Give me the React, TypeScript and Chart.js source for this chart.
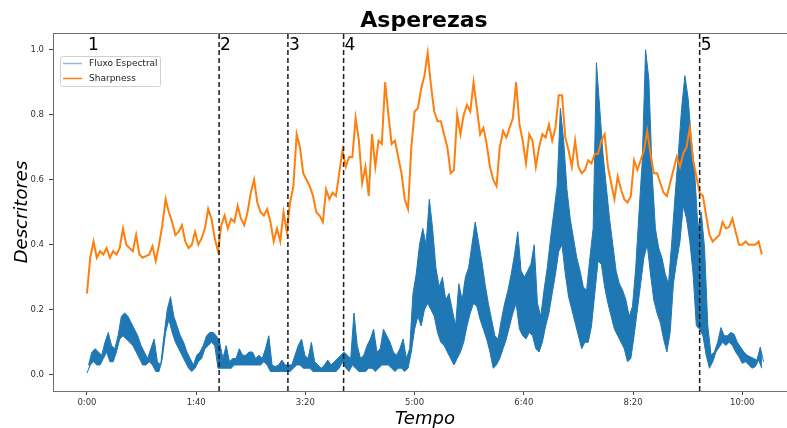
import React, { useEffect, useRef } from 'react';
import { Chart, registerables } from 'chart.js';

Chart.register(...registerables);

// sampling step of the series (seconds)
const STEP = 3;

// Sharpness (orange), one value every 3 s from 0:00
const SHARPNESS = [
  0.25, 0.36, 0.41, 0.36, 0.38, 0.37, 0.39, 0.36, 0.38, 0.37,
  0.39, 0.45, 0.40, 0.39, 0.38, 0.43, 0.37, 0.36, 0.365, 0.37,
  0.395, 0.35, 0.40, 0.46, 0.54, 0.50, 0.47, 0.43, 0.44, 0.46,
  0.41, 0.39, 0.40, 0.44, 0.40, 0.42, 0.45, 0.51, 0.48, 0.42,
  0.38, 0.46, 0.49, 0.45, 0.48, 0.47, 0.52, 0.48, 0.46, 0.50,
  0.56, 0.60, 0.53, 0.50, 0.49, 0.51, 0.47, 0.41, 0.45, 0.41,
  0.50, 0.44, 0.53, 0.58, 0.74, 0.70, 0.62, 0.60, 0.58, 0.55,
  0.50, 0.49, 0.47, 0.57, 0.54, 0.56, 0.55, 0.62, 0.69, 0.64,
  0.67, 0.67, 0.79, 0.72, 0.59, 0.64, 0.55, 0.74, 0.64, 0.72,
  0.71, 0.90, 0.80, 0.71, 0.72, 0.67, 0.62, 0.54, 0.51, 0.70,
  0.81, 0.82, 0.88, 0.92, 0.99, 0.89, 0.81, 0.78, 0.78, 0.74,
  0.70, 0.62, 0.63, 0.80, 0.74, 0.80, 0.83, 0.81, 0.90, 0.82,
  0.74, 0.76, 0.71, 0.64, 0.60, 0.58, 0.70, 0.75, 0.73, 0.76,
  0.79, 0.90, 0.77, 0.72, 0.65, 0.74, 0.72, 0.64, 0.70, 0.74,
  0.73, 0.77, 0.72, 0.76, 0.86, 0.86, 0.73, 0.69, 0.64, 0.72,
  0.64, 0.62, 0.63, 0.66, 0.65, 0.68, 0.68, 0.72, 0.74, 0.64,
  0.59, 0.54, 0.61, 0.57, 0.54, 0.53, 0.55, 0.66, 0.63, 0.66,
  0.69, 0.75, 0.68, 0.62, 0.62, 0.59, 0.56, 0.55, 0.59, 0.63,
  0.67, 0.64, 0.68, 0.70, 0.76, 0.66, 0.61, 0.56, 0.55, 0.49,
  0.43, 0.41, 0.42, 0.43, 0.47, 0.45, 0.455, 0.48, 0.44, 0.40,
  0.40, 0.41, 0.40, 0.40, 0.40, 0.41, 0.37,
];

// Fluxo Espectral (blue): lower and upper values of the fast oscillation, every 3 s
const FLUX_LOW = [
  0.005, 0.03, 0.04, 0.03, 0.03, 0.05, 0.07, 0.04, 0.04, 0.07,
  0.11, 0.12, 0.11, 0.10, 0.09, 0.07, 0.05, 0.03, 0.03, 0.04,
  0.03, 0.01, 0.01, 0.05, 0.13, 0.17, 0.13, 0.10, 0.08, 0.06,
  0.04, 0.02, 0.01, 0.02, 0.04, 0.05, 0.08, 0.09, 0.10, 0.09,
  0.02, 0.02, 0.02, 0.02, 0.02, 0.03, 0.03, 0.03, 0.03, 0.03,
  0.03, 0.03, 0.03, 0.03, 0.04, 0.03, 0.01, 0.01, 0.01, 0.01,
  0.01, 0.01, 0.01, 0.02, 0.03, 0.03, 0.02, 0.02, 0.02, 0.01,
  0.01, 0.01, 0.01, 0.01, 0.01, 0.01, 0.01, 0.02, 0.04, 0.02,
  0.01, 0.03, 0.02, 0.01, 0.01, 0.01, 0.02, 0.02, 0.01, 0.02,
  0.03, 0.03, 0.03, 0.02, 0.01, 0.02, 0.02, 0.01, 0.02, 0.07,
  0.14, 0.18, 0.15, 0.20, 0.22, 0.20, 0.18, 0.13, 0.10, 0.09,
  0.07, 0.05, 0.03, 0.05, 0.07, 0.10, 0.15, 0.19, 0.22, 0.21,
  0.17, 0.14, 0.11, 0.07, 0.02, 0.03, 0.05, 0.08, 0.11, 0.15,
  0.19, 0.22, 0.14, 0.12, 0.11, 0.13, 0.12, 0.08, 0.07, 0.10,
  0.15, 0.19, 0.25, 0.31, 0.38, 0.40, 0.31, 0.24, 0.20, 0.16,
  0.12, 0.08, 0.10, 0.10, 0.15, 0.25, 0.35, 0.34, 0.27, 0.22,
  0.18, 0.14, 0.12, 0.10, 0.08, 0.04, 0.05, 0.12, 0.20, 0.28,
  0.36, 0.40, 0.31, 0.23, 0.19, 0.16, 0.11, 0.07, 0.13, 0.28,
  0.35, 0.41, 0.52, 0.48, 0.41, 0.31, 0.15, 0.14, 0.12, 0.06,
  0.02, 0.04, 0.07, 0.085, 0.10, 0.09, 0.10, 0.09, 0.07, 0.055,
  0.035, 0.04, 0.03, 0.02, 0.025, 0.045, 0.02,
];

const FLUX_HIGH = [
  0.03, 0.07, 0.08, 0.07, 0.06, 0.10, 0.13, 0.09, 0.08, 0.12,
  0.18, 0.19, 0.18, 0.16, 0.14, 0.12, 0.09, 0.07, 0.05, 0.08,
  0.11, 0.04, 0.03, 0.12, 0.20, 0.24, 0.18, 0.15, 0.12, 0.10,
  0.07, 0.05, 0.03, 0.06, 0.07, 0.09, 0.12, 0.13, 0.13, 0.12,
  0.10, 0.05, 0.09, 0.04, 0.05, 0.05, 0.08, 0.06, 0.06, 0.07,
  0.07, 0.05, 0.06, 0.05, 0.08, 0.12, 0.03, 0.025, 0.03, 0.045,
  0.03, 0.03, 0.03, 0.06, 0.09, 0.11, 0.06, 0.05, 0.10, 0.04,
  0.03, 0.02, 0.03, 0.045, 0.03, 0.04, 0.05, 0.06, 0.07, 0.06,
  0.05, 0.19, 0.09, 0.05, 0.06, 0.09, 0.11, 0.14, 0.07, 0.08,
  0.14, 0.12, 0.10, 0.07, 0.06, 0.08, 0.11, 0.05, 0.08, 0.25,
  0.31, 0.40, 0.45, 0.40, 0.54, 0.45, 0.33, 0.27, 0.30, 0.23,
  0.25, 0.20, 0.15, 0.28, 0.23, 0.30, 0.33, 0.40, 0.47, 0.41,
  0.35, 0.28, 0.22, 0.17, 0.12, 0.11, 0.17, 0.22, 0.26, 0.31,
  0.37, 0.44, 0.32, 0.30, 0.32, 0.34, 0.40, 0.22, 0.18, 0.26,
  0.33, 0.42, 0.50, 0.58, 0.82, 0.72, 0.57, 0.48, 0.42, 0.36,
  0.32, 0.27, 0.26, 0.36, 0.45, 0.96, 0.82, 0.68, 0.58, 0.48,
  0.40, 0.32, 0.28, 0.26, 0.23, 0.18, 0.21, 0.33, 0.50, 0.66,
  1.00, 0.91, 0.62, 0.45, 0.39, 0.36, 0.31, 0.28, 0.41, 0.55,
  0.68, 0.82, 0.92, 0.85, 0.72, 0.62, 0.45, 0.50, 0.39, 0.15,
  0.06, 0.07, 0.10, 0.145, 0.12, 0.12, 0.13, 0.125, 0.10, 0.085,
  0.07, 0.06, 0.055, 0.05, 0.045, 0.085, 0.04,
];

// section boundaries (seconds) and labels
const DIVIDERS = [121, 184, 235, 561];
const SECTION_TIMES = [0, 121, 184, 235, 561];
const SECTION_LABELS = ['1', '2', '3', '4', '5'];

const X_TICKS = [0, 100, 200, 300, 400, 500, 600];
const X_TICK_LABELS = ['0:00', '1:40', '3:20', '5:00', '6:40', '8:20', '10:00'];
const Y_TICKS = [0, 0.2, 0.4, 0.6, 0.8, 1.0];
const Y_TICK_LABELS = ['0.0', '0.2', '0.4', '0.6', '0.8', '1.0'];

const SERIES_NAMES = ['Fluxo Espectral', 'Sharpness'];
const TITLE = 'Asperezas';
const X_TITLE = 'Tempo';
const Y_TITLE = 'Descritores';

const X_MIN = -31.1;
const X_MAX = 641;
const Y_MIN = -0.05;
const Y_MAX = 1.0514;

const BLUE = '#1f77b4';
const ORANGE = '#ff7f0e';
const SPINE = '#6e6e6e';
const FONT = '"DejaVu Sans", sans-serif';

export default function App() {
  const ref = useRef<HTMLCanvasElement>(null);

  useEffect(() => {
    const canvas = ref.current;
    if (!canvas) return;

    const times = SHARPNESS.map((_, i) => i * STEP);
    const sharpData = SHARPNESS.map((v, i) => ({ x: times[i], y: v }));
    const lowData = FLUX_LOW.map((v, i) => ({ x: times[i], y: v }));
    const highData = FLUX_HIGH.map((v, i) => ({ x: times[i] + STEP / 2, y: v }));

    const dividerSets = DIVIDERS.map((t) => ({
      type: 'line',
      label: 'divider',
      data: [
        { x: t, y: Y_MIN },
        { x: t, y: Y_MAX },
      ],
      borderColor: '#1a1a1a',
      borderWidth: 1.5,
      borderDash: [5, 3],
      pointRadius: 0,
      fill: false,
      order: 0,
    }));
    const lowIndex = dividerSets.length + 1;

    const annot = {
      id: 'annot',
      afterDraw(chart: any) {
        const { ctx, chartArea, scales } = chart;
        ctx.save();
        // top spine
        ctx.strokeStyle = SPINE;
        ctx.lineWidth = 1;
        ctx.beginPath();
        ctx.moveTo(chartArea.left, chartArea.top + 0.5);
        ctx.lineTo(chartArea.right, chartArea.top + 0.5);
        ctx.stroke();

        // section labels
        ctx.fillStyle = '#000';
        ctx.font = `17px ${FONT}`;
        ctx.textAlign = 'left';
        ctx.textBaseline = 'alphabetic';
        SECTION_LABELS.forEach((s, i) => {
          ctx.fillText(s, scales.x.getPixelForValue(SECTION_TIMES[i]) + 1, 50);
        });

        // title
        ctx.font = `bold 22px ${FONT}`;
        ctx.textAlign = 'center';
        ctx.fillText(TITLE, 424, 27);

        // x title
        ctx.font = `italic 18px ${FONT}`;
        ctx.fillText(X_TITLE, 425, 424);

        // y title
        ctx.save();
        ctx.translate(26.5, (chartArea.top + chartArea.bottom) / 2);
        ctx.rotate(-Math.PI / 2);
        ctx.fillText(Y_TITLE, 0, 0);
        ctx.restore();

        // legend
        const lx = 60.5, ly = 56.5, lw = 100, lh = 30;
        ctx.fillStyle = 'rgba(255,255,255,0.85)';
        ctx.strokeStyle = '#d0d0d0';
        ctx.lineWidth = 1;
        ctx.beginPath();
        ctx.roundRect(lx, ly, lw, lh, 2);
        ctx.fill();
        ctx.stroke();
        const rows = [
          { color: 'rgba(31,119,180,0.5)', y: 63.5 },
          { color: ORANGE, y: 78.5 },
        ];
        ctx.font = `9px ${FONT}`;
        ctx.textAlign = 'left';
        ctx.textBaseline = 'middle';
        rows.forEach((r, i) => {
          ctx.strokeStyle = r.color;
          ctx.lineWidth = 1.5;
          ctx.beginPath();
          ctx.moveTo(63, r.y);
          ctx.lineTo(82, r.y);
          ctx.stroke();
          ctx.fillStyle = '#222';
          ctx.fillText(SERIES_NAMES[i], 89, r.y + 0.5);
        });
        ctx.restore();
      },
    };

    const chart = new Chart(canvas, {
      type: 'line',
      data: {
        datasets: [
          ...dividerSets,
          {
            type: 'line',
            label: SERIES_NAMES[1],
            data: sharpData,
            borderColor: ORANGE,
            borderWidth: 2,
            pointRadius: 0,
            fill: false,
            order: 1,
          },
          {
            type: 'line',
            label: SERIES_NAMES[0] + ' (low)',
            data: lowData,
            borderColor: BLUE,
            borderWidth: 1,
            pointRadius: 0,
            fill: false,
            order: 2,
          },
          {
            type: 'line',
            label: SERIES_NAMES[0],
            data: highData,
            borderColor: BLUE,
            backgroundColor: BLUE,
            borderWidth: 1,
            pointRadius: 0,
            fill: lowIndex,
            order: 2,
          },
        ] as any,
      },
      options: {
        animation: false,
        responsive: false,
        devicePixelRatio: 1,
        events: [],
        layout: { padding: { top: 33, left: 0, right: 0, bottom: 0 } },
        elements: { line: { tension: 0 } },
        plugins: {
          legend: { display: false },
          tooltip: { enabled: false },
          title: { display: false },
          filler: { propagate: false },
        },
        scales: {
          x: {
            type: 'linear',
            min: X_MIN,
            max: X_MAX,
            afterBuildTicks: (scale: any) => {
              scale.ticks = X_TICKS.map((v) => ({ value: v }));
            },
            afterFit: (scale: any) => {
              scale.height = 37;
            },
            ticks: {
              callback: (_v: any, i: number) => X_TICK_LABELS[i],
              font: { family: FONT, size: 8.5 },
              color: '#333',
              padding: 3,
              maxRotation: 0,
              autoSkip: false,
            },
            grid: {
              display: true,
              drawOnChartArea: false,
              drawTicks: true,
              tickLength: 4,
              tickColor: '#444',
            },
            border: { display: true, color: SPINE, width: 1 },
          },
          y: {
            type: 'linear',
            min: Y_MIN,
            max: Y_MAX,
            afterBuildTicks: (scale: any) => {
              scale.ticks = Y_TICKS.map((v) => ({ value: v }));
            },
            afterFit: (scale: any) => {
              scale.width = 53;
            },
            ticks: {
              callback: (_v: any, i: number) => Y_TICK_LABELS[i],
              font: { family: FONT, size: 8.5 },
              color: '#333',
              padding: 5,
              autoSkip: false,
            },
            grid: {
              display: true,
              drawOnChartArea: false,
              drawTicks: true,
              tickLength: 4,
              tickColor: '#444',
            },
            border: { display: true, color: SPINE, width: 1 },
          },
        },
      } as any,
      plugins: [annot],
    });

    return () => chart.destroy();
  }, []);

  return (
    <div style={{ position: 'fixed', left: 0, top: 0, width: 787, height: 428, background: '#fff' }}>
      <canvas ref={ref} width={787} height={428} style={{ display: 'block', width: 787, height: 428 }} />
    </div>
  );
}
